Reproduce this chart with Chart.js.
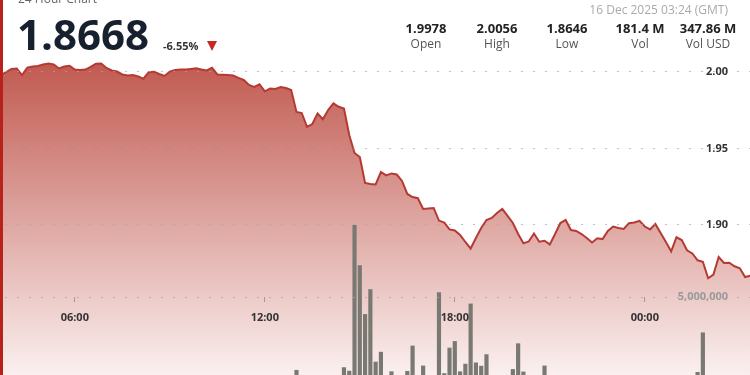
<!DOCTYPE html>
<html>
<head>
<meta charset="utf-8">
<script src="https://cdn.jsdelivr.net/npm/chart.js@4.4.1/dist/chart.umd.min.js"></script>
<style>
  html, body { margin: 0; padding: 0; background: #fff; }
  body { width: 750px; height: 375px; overflow: hidden; position: relative; font-family: "Open Sans", sans-serif; }
  #wrap { position: absolute; left: -7px; top: 0; width: 760px; height: 400px; }
  .edge { position: absolute; left: 0; top: 0; width: 3px; height: 375px; background: #b7231b; z-index: 5; }
  .hd { position: absolute; z-index: 4; white-space: nowrap; line-height: 1; }
  #title { left: 18px; top: -7px; font-size: 12px; color: #666; }
  #last { left: 17px; top: 13px; font-size: 42px; font-weight: 700; color: #17202e; }
  #chg { left: 163px; top: 40px; font-size: 11px; font-weight: 700; color: #333; }
  #tri { position: absolute; left: 207px; top: 41px; width: 0; height: 0; z-index: 4;
         border-left: 5.5px solid transparent; border-right: 5.5px solid transparent; border-top: 10px solid #c62828; }
  #stamp { right: 22px; top: 4px; font-size: 12px; color: #aaa; }
  .col { position: absolute; z-index: 4; width: 80px; text-align: center; line-height: 1; }
  .col .v { position: absolute; left: 0; right: 0; top: 22px; font-size: 13px; font-weight: 700; color: #222; }
  .col .l { position: absolute; left: 0; right: 0; top: 38px; font-size: 12px; color: #555; }
</style>
</head>
<body>
<div class="edge"></div>
<div class="hd" id="title">24 Hour Chart</div>
<div class="hd" id="last"></div>
<div class="hd" id="chg"></div>
<div id="tri"></div>
<div class="hd" id="stamp">16 Dec 2025 03:24 (GMT)</div>
<div id="stats"></div>
<div id="wrap"><canvas id="myChart" width="760" height="400"></canvas></div>
<script>
// 10-minute buckets starting 15 Dec 03:30
const startMinutes = 3 * 60 + 30;
const stepMinutes = 10;
const tickTimes = ["06:00", "12:00", "18:00", "00:00"];
const priceTicks = [1.90, 1.95, 2.00];
const volumeTicks = [5000000];

const statLabels = ["Open", "High", "Low", "Vol", "Vol USD"];
const statValues = ["1.9978", "2.0056", "1.8646", "181.4 M", "347.86 M"];
const statCenters = [426, 497, 567, 640, 708];
const lastPrice = "1.8668";
const changeText = "-6.55%";

const prices = [
  1.9978, 1.9980, 2.0000, 2.0020, 2.0023, 1.9980, 2.0029, 2.0036, 2.0039, 2.0049,
  2.0056, 2.0049, 2.0023, 2.0036, 2.0041, 2.0016, 2.0013, 2.0016, 2.0033, 2.0054,
  2.0056, 2.0026, 2.0010, 2.0003, 1.9984, 1.9977, 1.9980, 1.9971, 1.9956, 1.9998,
  2.0002, 1.9987, 1.9974, 2.0003, 2.0013, 2.0016, 2.0016, 2.0020, 2.0024, 2.0016,
  2.0010, 2.0028, 1.9984, 1.9982, 1.9980, 1.9977, 1.9962, 1.9948, 1.9915, 1.9902,
  1.9920, 1.9874, 1.9892, 1.9889, 1.9902, 1.9895, 1.9882, 1.9739, 1.9732, 1.9642,
  1.9660, 1.9729, 1.9691, 1.9752, 1.9795, 1.9773, 1.9761, 1.9588, 1.9471, 1.9444,
  1.9275, 1.9268, 1.9265, 1.9346, 1.9324, 1.9337, 1.9330, 1.9288, 1.9203, 1.9183,
  1.9175, 1.9105, 1.9108, 1.9111, 1.9029, 1.9016, 1.8971, 1.8964, 1.8935, 1.8889,
  1.8846, 1.8915, 1.8980, 1.9033, 1.9046, 1.9078, 1.9105, 1.9059, 1.9013, 1.8941,
  1.8880, 1.8892, 1.8944, 1.8891, 1.8897, 1.8873, 1.8941, 1.9013, 1.9033, 1.8967,
  1.8961, 1.8941, 1.8915, 1.8886, 1.8913, 1.8908, 1.8961, 1.8990, 1.8980, 1.8974,
  1.9012, 1.9016, 1.9027, 1.8990, 1.8971, 1.9007, 1.8948, 1.8889, 1.8827, 1.8920,
  1.8902, 1.8835, 1.8814, 1.8769, 1.8760, 1.8652, 1.8676, 1.8791, 1.8752, 1.8753,
  1.8730, 1.8717, 1.8660, 1.8668
];

// volume per bucket, millions
const volumesM = [
  0.6, 0.5, 0.7, 0.4, 0.5, 0.6, 0.8, 0.5, 0.4, 0.6,
  0.5, 0.7, 0.6, 0.4, 0.5, 0.9, 0.6, 0.5, 0.7, 0.8,
  0.6, 0.5, 0.4, 0.6, 0.7, 0.5, 0.6, 0.8, 0.9, 0.6,
  0.5, 0.7, 0.6, 0.5, 0.4, 0.6, 0.5, 0.7, 0.6, 0.5,
  0.6, 0.8, 0.7, 0.5, 0.6, 0.7, 0.9, 1.0, 0.8, 0.9,
  0.7, 1.0, 0.8, 0.7, 0.6, 0.8, 0.9, 1.46, 1.1, 1.0,
  0.9, 1.1, 0.8, 0.9, 0.7, 0.8, 1.59, 1.42, 8.50, 6.54,
  4.17, 5.38, 1.86, 2.34, 1.1, 1.39, 1.0, 1.05, 1.41, 2.64,
  1.1, 1.67, 1.0, 0.9, 5.23, 1.30, 2.54, 2.86, 1.39, 1.76,
  4.68, 1.82, 1.66, 2.22, 1.1, 0.9, 1.0, 0.8, 1.50, 2.75,
  1.38, 1.0, 0.9, 1.1, 1.67, 0.8, 0.9, 1.0, 0.7, 0.8,
  0.9, 0.6, 0.7, 0.8, 0.6, 0.7, 0.9, 0.8, 0.6, 0.7,
  0.8, 0.6, 0.7, 0.5, 0.6, 0.8, 0.7, 0.9, 1.0, 0.8,
  0.7, 0.9, 1.0, 1.36, 3.28, 1.1, 0.9, 0.8, 0.7, 0.9,
  0.8, 0.7, 0.9, 0.6
];

function pad2(n) {
  return String(n).padStart(2, "0");
}

const timeLabels = prices.map((_, i) => {
  const m = (startMinutes + i * stepMinutes) % 1440;
  return pad2(Math.floor(m / 60)) + ":" + pad2(m % 60);
});

// header texts
document.getElementById("last").textContent = lastPrice;
document.getElementById("chg").textContent = changeText;
const stats = document.getElementById("stats");
statLabels.forEach((lbl, i) => {
  const col = document.createElement("div");
  col.className = "col";
  col.style.left = statCenters[i] - 40 + "px";
  col.innerHTML = `<div class="v">${statValues[i]}</div><div class="l">${lbl}</div>`;
  stats.appendChild(col);
});

function noPadding(axis) {
  axis.paddingTop = 0;
  axis.paddingBottom = 0;
  axis.paddingLeft = 0;
  axis.paddingRight = 0;
}

// mirrored value axes sit inside the plot, so they take no room
function flatAxis(axis) {
  noPadding(axis);
  axis.width = 0;
}

const gridColor = "rgba(165,165,165,0.7)";

const ctx = document.getElementById("myChart").getContext("2d");
new Chart(ctx, {
  type: "bar",
  data: {
    labels: timeLabels,
    datasets: [
      {
        type: "line",
        data: prices,
        yAxisID: "y",
        borderColor: "#b53a33",
        borderWidth: 2,
        pointRadius: 0,
        tension: 0,
        fill: "start",
        order: 2,
        backgroundColor: (c) => {
          const area = c.chart.chartArea;
          if (!area) return "rgba(200,100,90,0.5)";
          const g = c.chart.ctx.createLinearGradient(0, area.top, 0, area.bottom);
          g.addColorStop(0, "rgb(192,88,78)");
          g.addColorStop(1, "rgb(255,252,252)");
          return g;
        },
      },
      {
        type: "bar",
        data: volumesM.map((v) => v * 1e6),
        yAxisID: "yv",
        backgroundColor: "#7a7872",
        categoryPercentage: 0.9,
        barPercentage: 0.88,
        order: 1,
      },
    ],
  },
  options: {
    responsive: false,
    animation: false,
    devicePixelRatio: 1,
    layout: { padding: { top: 58, left: 0, right: 0, bottom: 0 } },
    plugins: { legend: { display: false }, tooltip: { enabled: false } },
    scales: {
      x: {
        position: { yv: 5000000 },
        offset: true,
        afterFit: noPadding,
        afterBuildTicks: (axis) => {
          axis.ticks = axis.ticks.filter((t) => tickTimes.includes(timeLabels[t.value]));
        },
        grid: {
          z: 1,
          offset: false,
          drawOnChartArea: false,
          drawTicks: true,
          tickLength: 5,
          tickColor: "rgba(120,120,120,0.6)",
        },
        border: { display: false },
        ticks: {
          z: 2,
          autoSkip: false,
          maxRotation: 0,
          padding: 9,
          color: "#333",
          font: { family: "Open Sans", size: 11, weight: "bold" },
          callback: function (value) {
            return this.getLabelForValue(value);
          },
        },
      },
      y: {
        position: "right",
        min: 1.78562,
        max: 2.00915,
        afterFit: flatAxis,
        afterBuildTicks: (axis) => {
          axis.ticks = priceTicks.map((v) => ({ value: v }));
        },
        grid: { z: 1, color: gridColor, drawTicks: false, lineWidth: 1 },
        border: { display: false, dash: [2, 10] },
        ticks: {
          z: 2,
          mirror: true,
          padding: -25,
          color: "#333",
          font: { family: "Open Sans", size: 11, weight: "bold" },
          callback: (v) => v.toFixed(2),
        },
      },
      yv: {
        position: "right",
        min: 0,
        max: 16602000,
        afterFit: flatAxis,
        afterBuildTicks: (axis) => {
          axis.ticks = volumeTicks.map((v) => ({ value: v }));
        },
        grid: { z: 1, color: gridColor, drawTicks: false, lineWidth: 1 },
        border: { display: false, dash: [2, 10] },
        ticks: {
          z: 2,
          mirror: true,
          padding: -25,
          color: "#9a9a9a",
          font: { family: "Open Sans", size: 11, weight: "bold" },
          callback: (v) => v.toLocaleString("en-US"),
        },
      },
    },
  },
});
</script>
</body>
</html>
